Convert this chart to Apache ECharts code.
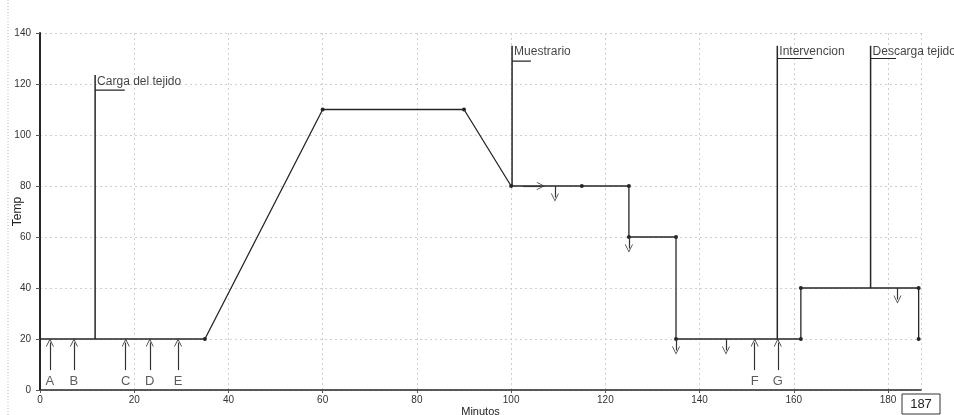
<!DOCTYPE html>
<html><head><meta charset="utf-8">
<script src="https://cdn.jsdelivr.net/npm/echarts@6/dist/echarts.min.js"></script>
<style>html,body{margin:0;padding:0;background:#fff}#c{width:954px;height:415px}</style>
</head><body><div id="c"></div>
<script>
// ---- data ----
const profileX = [0, 35, 60, 90, 100, 115, 125, 125, 135, 135, 161.5, 161.5, 186.5, 186.5];
const profileY = [20, 20, 110, 110, 80, 80, 80, 60, 60, 20, 20, 40, 40, 20];

const eventNames = ['Carga del tejido', 'Muestrario', 'Intervencion', 'Descarga tejido'];
const eventX = [11.7, 100.2, 156.5, 176.3];
const eventBase = [20, 80, 20, 40];
const eventTop = [123.5, 135, 135, 135];
const eventFlagEnd = [18, 104.2, 164, 181.7];
const eventFlagY = [117.6, 129, 130, 130];
const eventLabelY = [121, 132.6, 132.6, 132.6];

const upArrowNames = ['A', 'B', 'C', 'D', 'E', 'F', 'G'];
const upArrowX = [2.1, 7.2, 18.2, 23.3, 29.3, 151.7, 156.6];
const upArrowFrom = 7.8;
const upArrowTo = 18.6;
const upLabelY = 3.4;

const downArrowX = [109.3, 125, 135, 145.6, 182];
const downArrowFrom = [80, 60, 20, 20, 40];
const downArrowTo = [75.5, 55.5, 15.5, 15.5, 35.5];

const rightArrowFrom = [102.5, 80];
const rightArrowTo = [106.3, 80];

const xTickLabels = [0, 20, 40, 60, 80, 100, 120, 140, 160, 180];
const yTickLabels = [0, 20, 40, 60, 80, 100, 120, 140];
const currentTime = 187;

// ---- chart ----
const INK = '#262626';
const FONT = "'Liberation Sans Narrow','Liberation Sans',Arial,sans-serif";
const chevron = 'path://M0,10 L5,0 L10,10 L9,10 L5,2 L1,10 Z';

const series = [];
series.push({
  type: 'line',
  data: profileX.map((x, i) => ({ value: [x, profileY[i]], symbol: i === 0 ? 'none' : 'circle' })),
  symbolSize: 4,
  showSymbol: true,
  lineStyle: { color: INK, width: 1.3 },
  itemStyle: { color: INK },
  z: 3
});

eventX.forEach((x, i) => {
  series.push({
    type: 'line', symbol: 'none',
    data: [[x, eventBase[i]], [x, eventTop[i]]],
    lineStyle: { color: INK, width: 1.5 }, z: 2
  });
  series.push({
    type: 'line', symbol: 'none',
    data: [[x, eventFlagY[i]], [eventFlagEnd[i], eventFlagY[i]]],
    lineStyle: { color: INK, width: 1.2 }, z: 2
  });
});

series.push({
  type: 'scatter', symbolSize: 0,
  data: eventX.map((x, i) => ({ value: [x, eventLabelY[i]], name: eventNames[i] })),
  label: {
    show: true, position: 'inside', formatter: p => p.name,
    color: '#111', fontSize: 12, fontFamily: "'Liberation Sans',Arial,sans-serif",
    align: 'left', verticalAlign: 'middle', offset: [2, 0]
  },
  silent: true, z: 4
});

series.push({
  type: 'scatter', symbolSize: 0,
  data: upArrowX.map((x, i) => ({ value: [x, upLabelY], name: upArrowNames[i] })),
  label: {
    show: true, position: 'inside', formatter: p => p.name,
    color: '#333', fontSize: 13, fontFamily: "'Liberation Sans',Arial,sans-serif",
    align: 'center', verticalAlign: 'middle'
  },
  silent: true, z: 4
});

const arrowLines = [];
upArrowX.forEach(x => arrowLines.push([{ coord: [x, upArrowFrom] }, { coord: [x, upArrowTo] }]));
downArrowX.forEach((x, i) => arrowLines.push([{ coord: [x, downArrowFrom[i]] }, { coord: [x, downArrowTo[i]] }]));
arrowLines.push([{ coord: rightArrowFrom }, { coord: rightArrowTo }]);

series.push({
  type: 'line', data: [], symbol: 'none',
  markLine: {
    silent: true, animation: false,
    symbol: ['none', chevron], symbolSize: [8, 8],
    label: { show: false },
    lineStyle: { color: '#333', width: 1.2, type: 'solid' },
    data: arrowLines
  }
});

const chart = echarts.init(document.getElementById('c'), null, { renderer: 'canvas' });
chart.setOption({
  animation: false,
  backgroundColor: '#fff',
  grid: { left: 40, right: 33, top: 33, bottom: 25, containLabel: false, outerBoundsMode: 'none' },
  xAxis: {
    type: 'value', min: 0, max: currentTime, interval: 20,
    name: 'Minutos', nameLocation: 'middle', nameGap: 16, nameMoveOverlap: false,
    nameTextStyle: { color: '#222', fontSize: 11, fontFamily: FONT },
    axisLine: { lineStyle: { color: INK, width: 1.5 } },
    axisTick: { show: true, length: 3, lineStyle: { color: '#555' } },
    axisLabel: {
      color: '#333', fontSize: 10, fontFamily: FONT, margin: 5,
      formatter: v => (xTickLabels.indexOf(v) >= 0 ? String(v) : ''),
      showMaxLabel: false
    },
    splitLine: { show: true, lineStyle: { color: '#cfcfcf', type: [2, 3], width: 1 } }
  },
  yAxis: {
    type: 'value', min: 0, max: 140, interval: 20,
    name: 'Temp', nameLocation: 'middle', nameGap: 16, nameRotate: 90, nameMoveOverlap: false,
    nameTextStyle: { color: '#222', fontSize: 12, fontFamily: FONT },
    axisLine: { show: true, lineStyle: { color: INK, width: 2 } },
    axisTick: { show: true, length: 4, lineStyle: { color: '#555' } },
    axisLabel: {
      color: '#333', fontSize: 10, fontFamily: FONT, margin: 9,
      formatter: v => (yTickLabels.indexOf(v) >= 0 ? String(v) : '')
    },
    splitLine: { show: true, lineStyle: { color: '#cfcfcf', type: [2, 3], width: 1 } }
  },
  graphic: [
    { type: 'line', shape: { x1: 8, y1: 0, x2: 8, y2: 415 }, style: { stroke: '#bbb', lineDash: [1, 2], lineWidth: 1 } },
    { type: 'rect', shape: { x: 902, y: 394, width: 38, height: 20 }, style: { fill: '#fff', stroke: '#333', lineWidth: 1 } },
    { type: 'text', x: 921, y: 404, style: { text: String(currentTime), fill: '#222', fontSize: 13, fontFamily: "'Liberation Sans',Arial,sans-serif", align: 'center', verticalAlign: 'middle' } }
  ],
  series: series
});
</script>
</body></html>
